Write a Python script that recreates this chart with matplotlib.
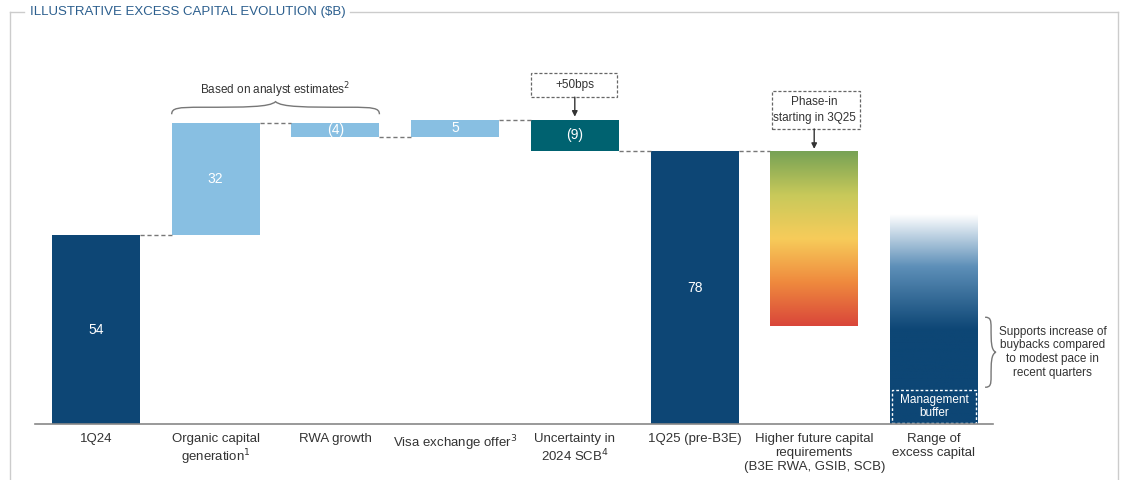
import matplotlib
matplotlib.use('Agg')
import matplotlib.pyplot as plt
import numpy as np
from matplotlib.colors import LinearSegmentedColormap
from matplotlib.patches import Rectangle
from matplotlib.path import Path
from matplotlib.patches import PathPatch

plt.rcParams['font.family'] = ['Liberation Sans', 'DejaVu Sans']

# waterfall data ($B)
categories = ['1Q24', 'Organic capital\ngeneration$^1$', 'RWA growth',
              'Visa exchange offer$^3$', 'Uncertainty in\n2024 SCB$^4$',
              '1Q25 (pre-B3E)', 'Higher future capital\nrequirements\n(B3E RWA, GSIB, SCB)',
              'Range of\nexcess capital']
start_value = 54
changes = [32, -4, 5, -9]
end_value = 78
requirement_range = [28, 78]     # gradient bar, bottom/top
excess_range = [0, 60]           # fading bar, bottom/top
buffer_top = 10

DARK = '#0d4675'
LIGHT = '#88bfe2'
TEAL = '#006270'
TXT = '#333333'

fig = plt.figure(figsize=(11.24, 4.8), dpi=100)
ax = fig.add_axes([0, 0, 1, 1])
step = 119.7
xlim = (-96 / step, (1124 - 96) / step)
ylim = (-16, 424 / 3.5)
ax.axis('off')
w = 88 / step

# totals and steps
ax.bar(0, start_value, width=w, color=DARK)
ax.text(0, start_value / 2, str(start_value), color='white', ha='center', va='center', fontsize=10)

level = start_value
step_colors = [LIGHT, LIGHT, LIGHT, TEAL]
levels = [start_value]
for i, (c, col) in enumerate(zip(changes, step_colors), start=1):
    lo, hi = sorted([level, level + c])
    ax.bar(i, hi - lo, bottom=lo, width=w, color=col)
    lab = str(c) if c > 0 else '(%d)' % -c
    ax.text(i, (lo + hi) / 2, lab, color='white', ha='center', va='center', fontsize=10)
    level += c
    levels.append(level)

ax.bar(5, end_value, width=w, color=DARK)
ax.text(5, end_value / 2, str(end_value), color='white', ha='center', va='center', fontsize=10)

# connector lines
levels.append(end_value)
for i in range(6):
    ax.plot([i + w / 2, i + 1 - w / 2], [levels[i], levels[i]], ls=(0, (3, 2)), color='#777777', lw=1)

# higher requirements: green -> yellow -> red
cmap_req = LinearSegmentedColormap.from_list('req', ['#d9463a', '#ef8a3e', '#f7cc5a', '#c8c95a', '#77a255'])
grad = np.linspace(0, 1, 256).reshape(-1, 1)
ax.imshow(grad, cmap=cmap_req, aspect='auto', origin='lower',
          extent=[6 - w / 2, 6 + w / 2, requirement_range[0], requirement_range[1]], zorder=2)

# range of excess capital: fades to white
cmap_ex = LinearSegmentedColormap.from_list('ex', [(0, DARK), (0.45, DARK), (0.75, '#5d8fb8'), (1, '#ffffff')])
ax.imshow(grad, cmap=cmap_ex, aspect='auto', origin='lower',
          extent=[7 - w / 2, 7 + w / 2, excess_range[0], excess_range[1]], zorder=2)
ax.add_patch(Rectangle((7 - w / 2 + 0.02, 0.3), w - 0.04, buffer_top - 0.6, fill=False,
                       ec='white', ls=(0, (2, 1.5)), lw=1, zorder=3))
ax.text(7, buffer_top / 2, 'Management\nbuffer', color='white', ha='center', va='center',
        fontsize=8.5, zorder=4, linespacing=1.2)

ax.set_xlim(*xlim)
ax.set_ylim(*ylim)

# baseline
ax.plot([(35 - 96) / step, (993 - 96) / step], [0, 0], color='#888888', lw=1.2, zorder=3)

# category labels
for i, c in enumerate(categories):
    ax.text(i, -2.6, c, ha='center', va='top', fontsize=9.5, color=TXT, linespacing=1.2)


def brace(ax, x0, x1, y, h, color='#777777', vertical=False):
    # curly brace built from cubic segments
    if not vertical:
        xm = (x0 + x1) / 2
        verts = [(x0, y), (x0, y + h * 0.9), (x0 + 0.05, y + h), (x0 + 0.25, y + h),
                 (xm - 0.25, y + h), (xm - 0.05, y + h), (xm, y + h * 1.8),
                 (xm + 0.05, y + h), (xm + 0.25, y + h), (x1 - 0.25, y + h),
                 (x1 - 0.05, y + h), (x1, y + h * 0.9), (x1, y)]
    else:
        ym = (x0 + x1) / 2
        d = (x1 - x0)
        verts = [(y, x0), (y + h * 0.9, x0), (y + h, x0 + d * 0.04), (y + h, x0 + d * 0.15),
                 (y + h, ym - d * 0.15), (y + h, ym - d * 0.03), (y + h * 1.8, ym),
                 (y + h, ym + d * 0.03), (y + h, ym + d * 0.15), (y + h, x1 - d * 0.15),
                 (y + h, x1 - d * 0.04), (y + h * 0.9, x1), (y, x1)]
    codes = [Path.MOVETO] + [Path.CURVE4] * 12
    ax.add_patch(PathPatch(Path(verts, codes), fill=False, ec=color, lw=1))


brace(ax, 1 - w / 2, 2 + w / 2, 88.5, 2.0)
ax.text(1.5, 95.5, 'Based on analyst estimates$^2$', ha='center', va='center', fontsize=8.5, color=TXT)

# right brace next to excess bar
brace(ax, 10.5, 30.5, 7 + w / 2 + 0.06, 0.05, vertical=True)
ax.text(7.99, 20.5, 'Supports increase of\nbuybacks compared\nto modest pace in\nrecent quarters',
        ha='center', va='center', fontsize=8.5, color=TXT, linespacing=1.2)

# callout boxes with arrows
box_kw = dict(fill=False, ec='#666666', ls=(0, (2.5, 1.5)), lw=0.9)
ax.add_patch(Rectangle((3.634, 93.4), 0.718, 6.9, **box_kw))
ax.text(4, 96.85, '+50bps', ha='center', va='center', fontsize=8.5, color=TXT)
ax.annotate('', xy=(4, 87.8), xytext=(4, 93.4),
            arrowprops=dict(arrowstyle='-|>', color='#333333', lw=1, mutation_scale=8,
                            shrinkA=0, shrinkB=0))
ax.add_patch(Rectangle((5.647, 84.3), 0.736, 10.8, **box_kw))
ax.text(6, 89.7, 'Phase-in\nstarting in 3Q25', ha='center', va='center', fontsize=8.5, color=TXT,
        linespacing=1.4)
ax.annotate('', xy=(6, 78.6), xytext=(6, 84.3),
            arrowprops=dict(arrowstyle='-|>', color='#333333', lw=1, mutation_scale=8,
                            shrinkA=0, shrinkB=0))

# frame with title
fig.add_artist(plt.Line2D([10 / 1124, 10 / 1124], [0, 1 - 12 / 480], color='#cccccc', lw=1))
fig.add_artist(plt.Line2D([10 / 1124, 24 / 1124], [1 - 12 / 480] * 2, color='#cccccc', lw=1))
fig.add_artist(plt.Line2D([350 / 1124, 1118 / 1124], [1 - 12 / 480] * 2, color='#cccccc', lw=1))
fig.add_artist(plt.Line2D([1118 / 1124, 1118 / 1124], [0, 1 - 12 / 480], color='#cccccc', lw=1))
fig.text(30 / 1124, 1 - 12 / 480, 'ILLUSTRATIVE EXCESS CAPITAL EVOLUTION ($B)', ha='left', va='center',
         fontsize=9.5, color='#2c5f8e')

fig.savefig('out.png', dpi=100)
